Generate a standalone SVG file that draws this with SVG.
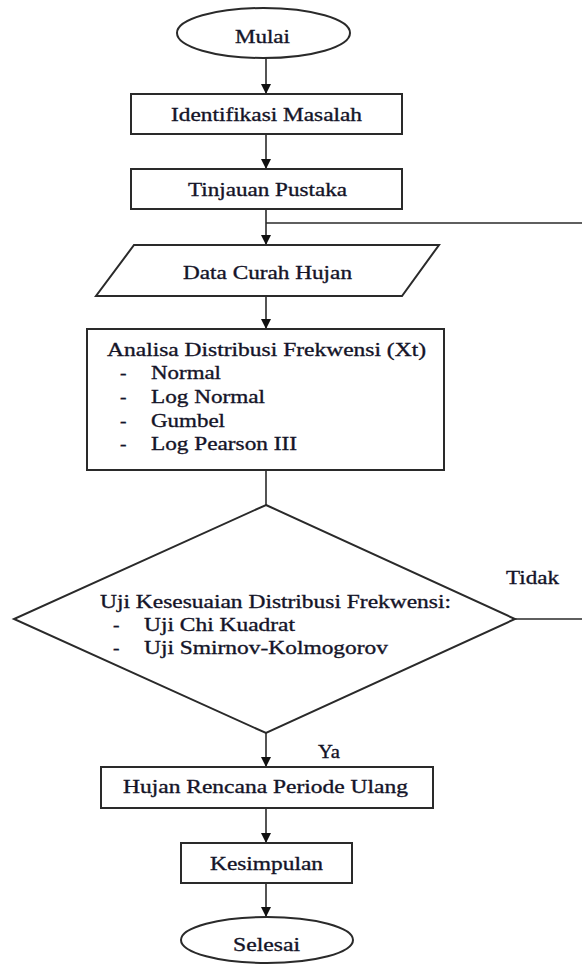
<svg xmlns="http://www.w3.org/2000/svg" width="582" height="965" viewBox="0 0 582 965">
<style>
.s{fill:#fff;stroke:#2a2a2a;stroke-width:2}
.c{fill:none;stroke:#2a2a2a;stroke-width:1.6}
.t{font-family:"Liberation Serif","Times New Roman",serif;font-size:19.5px;fill:#141428;stroke:#141428;stroke-width:0.35}
</style>
<defs>
<marker id="ah" markerUnits="userSpaceOnUse" markerWidth="10" markerHeight="10" refX="10" refY="5" orient="auto">
<path d="M0,0 L10,5 L0,10 z" fill="#111"/>
</marker>
</defs>
<rect width="582" height="965" fill="#fff"/>
<g id="connectors">
<line class="c" x1="266" y1="58" x2="266" y2="94" marker-end="url(#ah)"/>
<line class="c" x1="266" y1="134" x2="266" y2="169" marker-end="url(#ah)"/>
<line class="c" x1="266" y1="209" x2="266" y2="245" marker-end="url(#ah)"/>
<line class="c" x1="582" y1="223" x2="266" y2="223"/>
<line class="c" x1="266" y1="296" x2="266" y2="329" marker-end="url(#ah)"/>
<line class="c" x1="266" y1="470" x2="266" y2="505"/>
<line class="c" x1="266" y1="733" x2="266" y2="767" marker-end="url(#ah)"/>
<line class="c" x1="515" y1="619" x2="582" y2="619"/>
<line class="c" x1="266" y1="808" x2="266" y2="843" marker-end="url(#ah)"/>
<line class="c" x1="266" y1="883" x2="266" y2="917" marker-end="url(#ah)"/>
<text class="t" x="506" y="584" textLength="53" lengthAdjust="spacingAndGlyphs">Tidak</text>
<text class="t" x="318" y="758" textLength="22" lengthAdjust="spacingAndGlyphs">Ya</text>
</g>
<g id="mulai">
<ellipse class="s" cx="263.5" cy="33" rx="86.5" ry="25"/>
<text class="t" x="235" y="43" textLength="55" lengthAdjust="spacingAndGlyphs">Mulai</text>
</g>
<g id="identifikasi">
<rect class="s" x="131" y="94" width="271" height="40"/>
<text class="t" x="171" y="121" textLength="191" lengthAdjust="spacingAndGlyphs">Identifikasi Masalah</text>
</g>
<g id="tinjauan">
<rect class="s" x="131" y="169" width="271" height="40"/>
<text class="t" x="188" y="196" textLength="159" lengthAdjust="spacingAndGlyphs">Tinjauan Pustaka</text>
</g>
<g id="data">
<polygon class="s" points="134,245 439,245 402,296 96,296"/>
<text class="t" x="183" y="279" textLength="169" lengthAdjust="spacingAndGlyphs">Data Curah Hujan</text>
</g>
<g id="analisa">
<rect class="s" x="87" y="329" width="357" height="141"/>
<text class="t" x="107" y="356" textLength="319" lengthAdjust="spacingAndGlyphs">Analisa Distribusi Frekwensi (Xt)</text>
<text class="t" x="120" y="379">-</text>
<text class="t" x="151" y="379" textLength="70" lengthAdjust="spacingAndGlyphs">Normal</text>
<text class="t" x="120" y="403">-</text>
<text class="t" x="151" y="403" textLength="114" lengthAdjust="spacingAndGlyphs">Log Normal</text>
<text class="t" x="120" y="427">-</text>
<text class="t" x="151" y="427" textLength="74" lengthAdjust="spacingAndGlyphs">Gumbel</text>
<text class="t" x="120" y="450">-</text>
<text class="t" x="151" y="450" textLength="146" lengthAdjust="spacingAndGlyphs">Log Pearson III</text>
</g>
<g id="uji">
<polygon class="s" points="266,505 515,619 266,733 14,619"/>
<text class="t" x="100" y="608" textLength="351" lengthAdjust="spacingAndGlyphs">Uji Kesesuaian Distribusi Frekwensi:</text>
<text class="t" x="113" y="631">-</text>
<text class="t" x="144" y="631" textLength="151" lengthAdjust="spacingAndGlyphs">Uji Chi Kuadrat</text>
<text class="t" x="113" y="654">-</text>
<text class="t" x="144" y="654" textLength="244" lengthAdjust="spacingAndGlyphs">Uji Smirnov-Kolmogorov</text>
</g>
<g id="hujan">
<rect class="s" x="101" y="767" width="332" height="41"/>
<text class="t" x="123" y="793" textLength="285" lengthAdjust="spacingAndGlyphs">Hujan Rencana Periode Ulang</text>
</g>
<g id="kesimpulan">
<rect class="s" x="181" y="843" width="171" height="40"/>
<text class="t" x="210" y="870" textLength="113" lengthAdjust="spacingAndGlyphs">Kesimpulan</text>
</g>
<g id="selesai">
<ellipse class="s" cx="267" cy="940" rx="86" ry="23"/>
<text class="t" x="233" y="951" textLength="67" lengthAdjust="spacingAndGlyphs">Selesai</text>
</g>
</svg>
